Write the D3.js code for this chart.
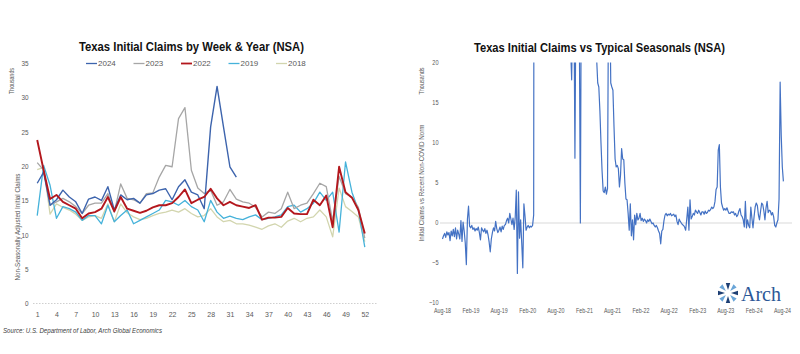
<!DOCTYPE html>
<html><head><meta charset="utf-8">
<script src="https://cdn.jsdelivr.net/npm/d3@7"></script>
<style>body{margin:0;background:#fff;} svg{display:block;font-family:"Liberation Sans",Arial,sans-serif;}</style>
</head><body><svg id="c" width="800" height="354"></svg>
<script>
// ---------------- DATA ----------------
const weeks = d3.range(1, 53);
const weekTickLabels = [1,4,7,10,13,16,19,22,25,28,31,34,37,40,43,46,49,52];
const leftYTicks = [0,5,10,15,20,25,30,35];
const seriesNames = ["2024","2023","2022","2019","2018"];

const claims2024 = [17.5,19.1,14.3,15.1,16.5,15.5,14.8,13.1,15.2,15.5,
  15.0,17.0,13.6,15.8,15.1,15.3,14.6,15.8,16.0,16.5,
  16.7,15.1,17.0,18.0,16.2,15.8,13.8,25.7,31.6,25.7,
  19.9,18.4];
const claims2023 = [20.5,19.4,14.3,14.8,15.3,14.8,14.1,13.1,14.3,14.6,
  14.6,16.0,13.3,17.4,15.3,15.1,14.6,16.0,16.1,18.4,
  20.1,19.9,26.9,28.5,19.4,16.8,16.0,16.5,14.3,14.8,
  16.6,15.2,14.8,14.6,14.0,12.6,13.3,13.1,13.8,16.2,
  13.8,14.3,14.6,16.0,17.5,17.0,12.0,18.5,16.0,15.5,
  14.0,9.5];
const claims2022 = [23.8,19.4,15.2,15.8,14.8,14.3,13.8,12.4,13.1,13.3,
  13.8,15.5,13.4,15.5,13.8,13.5,13.2,13.5,14.0,14.3,
  14.3,14.6,15.5,16.6,14.6,15.1,15.5,16.7,15.3,14.3,
  14.8,14.3,14.1,13.9,14.3,12.2,12.5,12.5,12.6,13.9,
  13.1,13.0,13.0,15.1,14.3,15.7,11.1,19.9,16.2,15.4,
  13.6,10.2];
const claims2019 = [12.8,20.1,17.2,12.4,14.1,13.8,13.3,12.1,12.8,12.8,
  11.6,14.3,11.9,12.8,13.6,11.6,12.1,12.6,13.1,13.6,
  15.0,14.8,14.3,15.0,14.1,13.6,11.9,15.0,13.3,12.4,
  12.7,12.4,12.2,12.6,12.9,12.2,12.4,12.6,12.9,14.1,
  14.3,13.3,13.8,14.6,16.2,15.0,16.2,10.4,20.6,16.2,
  13.6,8.2];
const claims2018 = [19.5,19.8,13.0,14.5,14.0,13.6,13.0,12.1,12.6,12.8,
  12.4,14.5,11.9,14.5,13.2,12.6,12.2,12.4,12.8,13.1,
  13.3,13.6,13.3,13.8,13.1,12.6,12.8,13.8,12.6,11.9,
  12.1,11.6,11.6,11.4,11.1,10.8,11.3,11.6,11.1,12.0,
  12.4,11.9,12.4,12.6,13.6,12.6,9.7,16.8,14.1,13.4,
  12.6,9.0];

// Right chart: weekly values (thousands) vs non-COVID norm, starting week ending 2018-08-04
const rightStartDate = "2018-08-04";
const rightValues = [
  -2.0,-1.6,-1.3,-1.8,-1.1,-1.5,-1.2,-2.2,-1.0,-1.6,
  -0.8,-1.7,-0.6,-2.0,-0.9,-1.4,-2.0,0.3,-2.3,0.1,
  -1.0,-2.5,-5.2,0.5,2.1,-0.4,-0.6,-0.3,-0.8,-0.6,
  -1.0,-0.7,-0.9,-0.5,-1.2,-2.1,-0.6,-0.9,-1.1,-0.7,
  -1.3,-0.9,-1.5,-2.4,-3.6,-2.0,-1.2,-0.6,-1.0,0.2,
  -0.7,-1.2,-0.9,-0.5,-1.1,-0.4,-0.8,-0.3,-0.2,0.3,
  0.6,0.0,1.2,0.5,-0.2,0.6,-0.8,0.7,4.1,-6.3,
  3.9,-1.9,0.4,-2.5,-5.6,2.4,0.9,-0.9,-0.5,-0.3,
  -0.6,-0.4,-0.5,-0.3,1.0,
  140,260,300,250,240,180,140,110,90,80,
  70,60,55,60,50,45,50,60,70,55,
  45,40,38,35,32,30,35,40,30,28,
  30,26,25,22,17.9,28,30,8.1,30,28,
  32,26,0,35,40,60,45,38,35,32,
  30,28,30,26,25,24,23,20.5,17.5,17.0,
  14,10,6.5,4.0,3.8,4.5,3.6,4.3,30,30,
  17.5,17.0,16.6,12,8.0,7.0,7.2,6.8,4.5,6.0,
  9.3,8.0,7.9,5.0,3.0,2.9,
  1.2,-0.9,2.4,-1.6,0.4,-2.1,1.0,-0.2,1.2,0.4,
  0.6,1.2,0.3,0.6,0.2,0.5,0.3,0.0,0.4,0.2,
  0.5,0.2,-0.1,0.0,-0.3,-0.5,-0.3,-0.6,-1.0,-1.3,
  -2.6,-1.0,-0.8,0.3,1.0,1.2,0.9,1.1,1.0,1.2,
  0.9,1.0,1.1,0.8,1.0,0.2,-0.2,0.5,0.2,0.0,
  -0.2,-0.3,-0.5,-0.9,0.5,2.0,-0.9,2.9,0.5,0.8,
  1.2,1.0,1.6,1.4,1.2,1.6,1.3,1.0,1.4,1.4,
  1.1,1.5,1.2,1.3,1.6,1.5,1.7,2.0,1.8,2.0,
  2.7,4.2,4.5,9.1,9.8,4.5,2.5,2.0,1.6,1.8,
  1.6,1.9,1.5,1.2,1.2,1.4,1.3,1.4,1.0,1.2,
  0.8,1.0,1.5,1.8,1.0,0.8,0.4,-0.5,2.7,-0.6,
  0.4,-0.3,-0.6,2.0,0.6,-0.6,0.8,2.0,2.5,2.2,
  1.0,0.4,1.5,2.5,2.3,1.5,0.4,1.9,2.7,1.3,
  1.6,1.5,1.0,1.3,0.8,-0.3,-0.5,0.0,0.4,3.0,
  17.6,11,7.0,5.2
];
const rightXTickLabels = ["Aug-18","Feb-19","Aug-19","Feb-20","Aug-20","Feb-21","Aug-21","Feb-22","Aug-22","Feb-23","Aug-23","Feb-24","Aug-24"];
const rightYTicks = [-10,-5,0,5,10,15,20];

// ---------------- STYLE ----------------
const seriesColors = {"2024":"#3d64ad","2023":"#a6a6a6","2022":"#b3171d","2019":"#45b2da","2018":"#d2d5ae"};
const seriesWidths = {"2024":1.4,"2023":1.3,"2022":1.9,"2019":1.3,"2018":1.3};
const textCol = "#595959";

const svg = d3.select("#c");
function squeeze(sel, f){ sel.each(function(){ const w=this.getComputedTextLength(); this.setAttribute("textLength", (w*f).toFixed(2)); this.setAttribute("lengthAdjust","spacingAndGlyphs"); }); }
function fitTo(sel, len){ sel.attr("textLength", len).attr("lengthAdjust","spacingAndGlyphs"); }

// ================= LEFT CHART =================
const xL = d3.scalePoint().domain(weeks).range([34, 368]).padding(0.5);
const yL = d3.scaleLinear().domain([0, 35]).range([303.5, 63]);

fitTo(svg.append("text").attr("x",191.5).attr("y",51).attr("text-anchor","middle")
  .attr("font-size",12.5).attr("font-weight","bold").attr("fill","#111")
  .text("Texas Initial Claims by Week & Year (NSA)"), 225);

// baseline
svg.append("line").attr("x1",33).attr("x2",377).attr("y1",yL(0)).attr("y2",yL(0))
  .attr("stroke","#cfcfcf").attr("stroke-width",1).attr("stroke-dasharray","1.5,1.5");

const gyL = svg.append("g").attr("transform","translate(28.5,0)")
  .call(d3.axisLeft(yL).tickValues(leftYTicks).tickSize(0).tickPadding(0));
gyL.select(".domain").remove();
gyL.selectAll("text").attr("font-size",7.5).attr("fill",textCol).attr("font-family","Liberation Sans, Arial, sans-serif");
squeeze(gyL.selectAll("text"), 0.85);

const gxL = svg.append("g").attr("transform",`translate(0,${yL(0)})`)
  .call(d3.axisBottom(xL).tickValues(weekTickLabels).tickSize(0).tickPadding(7.5));
gxL.select(".domain").remove();
gxL.selectAll("text").attr("font-size",8).attr("fill",textCol).attr("font-family","Liberation Sans, Arial, sans-serif");
squeeze(gxL.selectAll("text"), 0.87);

// axis titles
fitTo(svg.append("text").attr("transform","translate(13.5,81) rotate(-90)").attr("text-anchor","middle")
  .attr("font-size",6.5).attr("fill",textCol).text("Thousands"), 26);
fitTo(svg.append("text").attr("transform","translate(19.5,227) rotate(-90)").attr("text-anchor","middle")
  .attr("font-size",6.5).attr("fill",textCol).text("Non-Seasonally Adjusted Initial Claims"), 107);

const leftData = {"2024":claims2024,"2023":claims2023,"2022":claims2022,"2019":claims2019,"2018":claims2018};
const lineL = d3.line().x((d,i)=>xL(weeks[i])).y(d=>yL(d));
const drawOrder = ["2018","2019","2023","2024","2022"];
drawOrder.forEach(name=>{
  svg.append("path").datum(leftData[name]).attr("d", lineL)
    .attr("fill","none").attr("stroke",seriesColors[name]).attr("stroke-width",seriesWidths[name])
    .attr("stroke-linejoin","round");
});

// legend
const lg = svg.append("g");
seriesNames.forEach((name,i)=>{
  const x0 = 86 + i*47.5;
  lg.append("line").attr("x1",x0).attr("x2",x0+11).attr("y1",63.5).attr("y2",63.5)
    .attr("stroke",seriesColors[name]).attr("stroke-width",name==="2022"?1.8:1.3);
  lg.append("text").attr("x",x0+12).attr("y",66.3).attr("font-size",8).attr("fill",textCol).text(name);
});

// source
fitTo(svg.append("text").attr("x",3).attr("y",332.5).attr("font-size",7.5).attr("font-style","italic")
  .attr("fill","#404040").text("Source: U.S. Department of Labor, Arch Global Economics"), 159);

// ================= RIGHT CHART =================
const parseD = d3.timeParse("%Y-%m-%d");
const startD = parseD(rightStartDate);
const rightDates = rightValues.map((v,i)=>d3.timeDay.offset(startD, 7*i));
const xR = d3.scaleTime().domain([new Date(2018,7,1), new Date(2024,7,1)]).range([442, 782]);
const yR = d3.scaleLinear().domain([-10, 20]).range([303, 63]);

fitTo(svg.append("text").attr("x",599.5).attr("y",52).attr("text-anchor","middle")
  .attr("font-size",12.5).attr("font-weight","bold").attr("fill","#111")
  .text("Texas Initial Claims vs Typical Seasonals (NSA)"), 251);

svg.append("line").attr("x1",440).attr("x2",792).attr("y1",yR(0)).attr("y2",yR(0))
  .attr("stroke","#d9d9d9").attr("stroke-width",1);

const gyR = svg.append("g").attr("transform","translate(438.5,0)")
  .call(d3.axisLeft(yR).tickValues(rightYTicks).tickSize(0).tickPadding(0));
gyR.select(".domain").remove();
gyR.selectAll("text").attr("font-size",7).attr("fill",textCol).attr("dy","0.2em").attr("font-family","Liberation Sans, Arial, sans-serif");
squeeze(gyR.selectAll("text"), 0.8);

const parseTick = d3.timeParse("%b-%y");
const gxR = svg.append("g").attr("transform","translate(0,303)")
  .call(d3.axisBottom(xR).tickValues(rightXTickLabels.map(parseTick)).tickFormat(d3.timeFormat("%b-%y")).tickSize(0).tickPadding(5));
gxR.select(".domain").remove();
gxR.selectAll("text").attr("font-size",7).attr("fill",textCol).attr("font-family","Liberation Sans, Arial, sans-serif");
squeeze(gxR.selectAll("text"), 0.76);

fitTo(svg.append("text").attr("transform","translate(424,81) rotate(-90)").attr("text-anchor","middle")
  .attr("font-size",7).attr("fill",textCol).text("Thousands"), 27);
fitTo(svg.append("text").attr("transform","translate(423.5,183) rotate(-90)").attr("text-anchor","middle")
  .attr("font-size",7).attr("fill",textCol).text("Initial Claims vs Recent Non-COVID Norm"), 117);

svg.append("clipPath").attr("id","clipR").append("rect").attr("x",438).attr("y",62.5).attr("width",360).attr("height",242);
const lineR = d3.line().x((d,i)=>xR(rightDates[i])).y(d=>yR(d));
svg.append("path").datum(rightValues).attr("d", lineR).attr("clip-path","url(#clipR)")
  .attr("fill","none").attr("stroke","#4472c4").attr("stroke-width",1.2).attr("stroke-linejoin","round");

// Arch logo
const logo = svg.append("g").attr("transform","translate(728,293)");
d3.range(8).forEach(k=>{
  const a = k*45;
  logo.append("path").attr("d","M0,-3 L-2.2,-10 L2.2,-10 Z")
    .attr("transform",`rotate(${a})`).attr("fill", k%2 ? "#6aa5d8" : "#1d3f74");
});
svg.append("text").attr("x",741).attr("y",301).attr("font-family","Liberation Serif, Times New Roman, serif")
  .attr("font-size",20).attr("fill","#2b5797").text("Arch");
</script></body></html>
